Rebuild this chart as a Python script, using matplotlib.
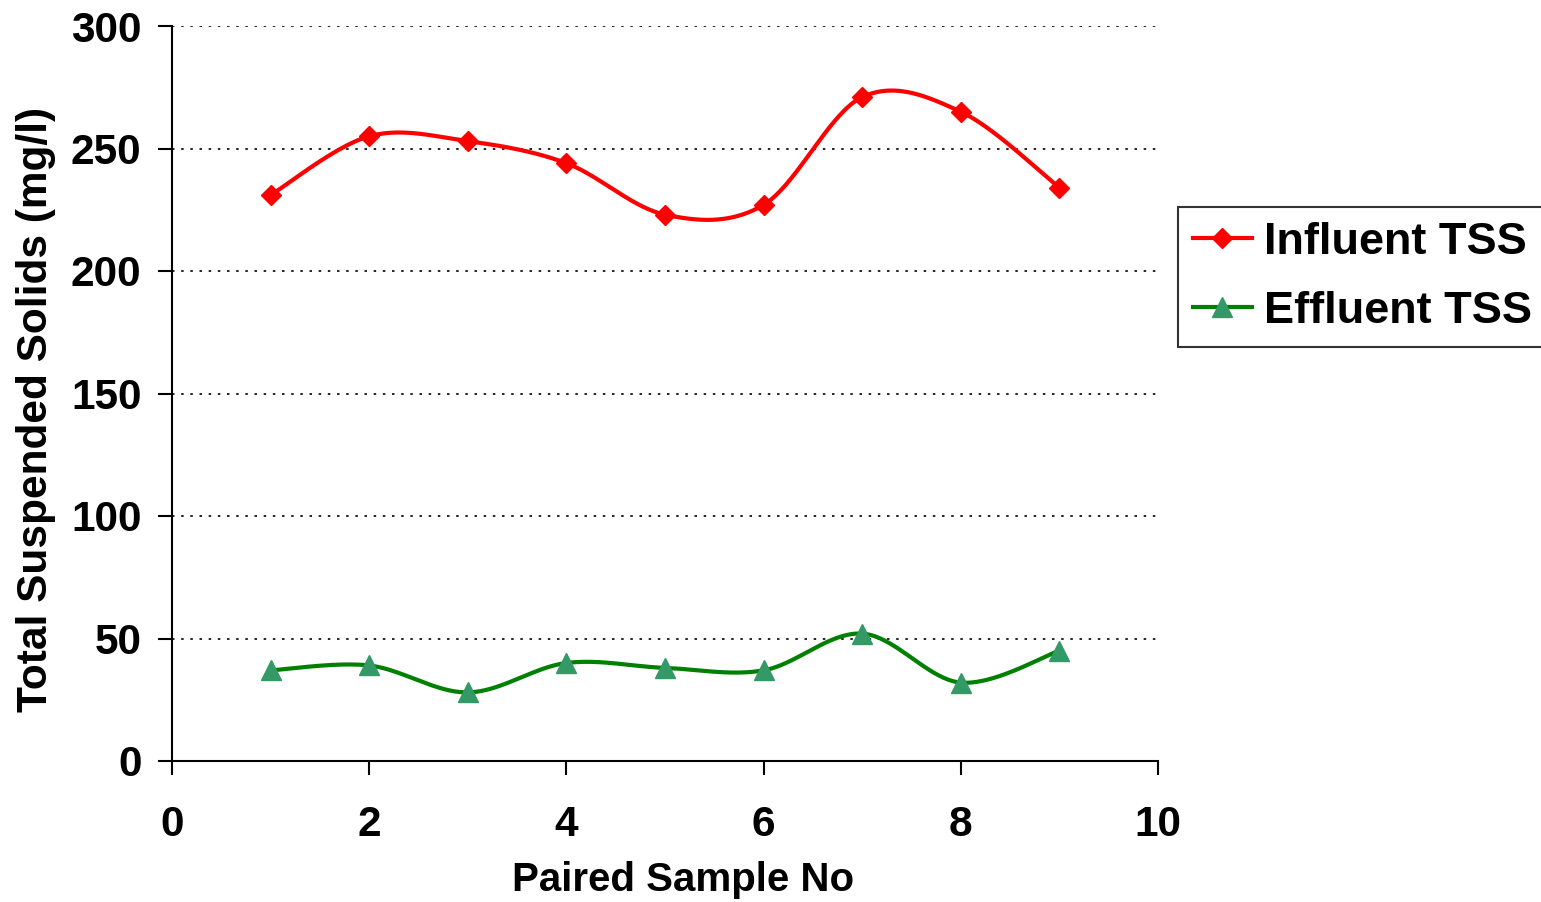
import numpy as np
import matplotlib
matplotlib.use("Agg")
import matplotlib.pyplot as plt
from matplotlib.lines import Line2D

plt.rcParams['font.family'] = ['Liberation Sans', 'DejaVu Sans']
plt.rcParams['font.weight'] = 'bold'

samples = [1, 2, 3, 4, 5, 6, 7, 8, 9]
influent_tss = [231, 255, 253, 244, 223, 227, 271, 265, 234]
effluent_tss = [37, 39, 28, 40, 38, 37, 52, 32, 45]
x_ticks = [0, 2, 4, 6, 8, 10]
y_ticks = [0, 50, 100, 150, 200, 250, 300]


def smooth(xs, ys, n=40):
    """Cubic Bezier smoothing through the points (Catmull-Rom style)."""
    p = np.column_stack([xs, ys]).astype(float)
    ext = np.vstack([p[0], p, p[-1]])
    out = []
    t = np.linspace(0, 1, n)[:, None]
    for i in range(len(p) - 1):
        p0, p1, p2, p3 = ext[i], ext[i + 1], ext[i + 2], ext[i + 3]
        c1 = p1 + (p2 - p0) / 6.0
        c2 = p2 - (p3 - p1) / 6.0
        seg = ((1 - t) ** 3) * p1 + 3 * ((1 - t) ** 2) * t * c1 + 3 * (1 - t) * t ** 2 * c2 + t ** 3 * p2
        out.append(seg if i == 0 else seg[1:])
    out = np.vstack(out)
    return out[:, 0], out[:, 1]


fig = plt.figure(figsize=(15.41, 9.02), dpi=100)
ax = fig.add_axes([172 / 1541, 1 - 761 / 902, (1158 - 172) / 1541, (761 - 26) / 902])

red = '#FF0000'
green = '#008000'
tri = '#339966'

sx, sy = smooth(samples, influent_tss)
ax.plot(sx, sy, color=red, lw=3, zorder=3, solid_capstyle='round')
ax.plot(samples, influent_tss, linestyle='none', marker='D', color=red, ms=10.5, zorder=4)

sx, sy = smooth(samples, effluent_tss)
ax.plot(sx, sy, color=green, lw=3, zorder=3, solid_capstyle='round')
ax.plot(samples, effluent_tss, linestyle='none', marker='^', color=tri, ms=14, zorder=4)

ax.set_xlim(0, 10)
ax.set_ylim(0, 300)
ax.set_xticks(x_ticks)
ax.set_yticks(y_ticks)
ax.tick_params(axis='both', labelsize=30.5, width=1.5, length=10, direction='out')
ax.tick_params(axis='x', pad=22)
ax.tick_params(axis='y', pad=12)
for lbl in ax.get_xticklabels() + ax.get_yticklabels():
    lbl.set_fontweight('bold')

for v in y_ticks[1:]:
    ax.axhline(v, color='black', lw=1.2, linestyle=(0, (1.5, 4)), zorder=1)

for side in ['top', 'right']:
    ax.spines[side].set_visible(False)
for side in ['left', 'bottom']:
    ax.spines[side].set_linewidth(1.5)

ax.set_xlabel('Paired Sample No', fontsize=29, fontweight='bold')
ax.set_ylabel('Total Suspended Solids (mg/l)', fontsize=30.5, fontweight='bold')
ax.xaxis.set_label_coords((683 - 172) / 986, -(880 - 761) / 735, transform=ax.transAxes)
ax.xaxis.label.set_va('center')
ax.yaxis.set_label_coords(-(172 - 36) / 986, (761 - 409) / 735, transform=ax.transAxes)
ax.yaxis.label.set_va('center')

handles = [
    Line2D([], [], color=red, lw=3, marker='D', ms=10.5),
    Line2D([], [], color=green, lw=3, marker='^', ms=14, markerfacecolor=tri, markeredgecolor=tri),
]
leg = fig.legend(handles, ['Influent TSS', 'Effluent TSS'], loc='upper left',
                 bbox_to_anchor=(1178 / 1541, 1 - 207 / 902), fontsize=32.5,
                 frameon=True, fancybox=False, edgecolor='black', handlelength=1.3,
                 handletextpad=0.28, borderpad=0.33, labelspacing=0.62, borderaxespad=0)
leg.get_frame().set_linewidth(1.5)
for t in leg.get_texts():
    t.set_fontweight('bold')

fig.savefig('out.png', dpi=100, facecolor='white')
